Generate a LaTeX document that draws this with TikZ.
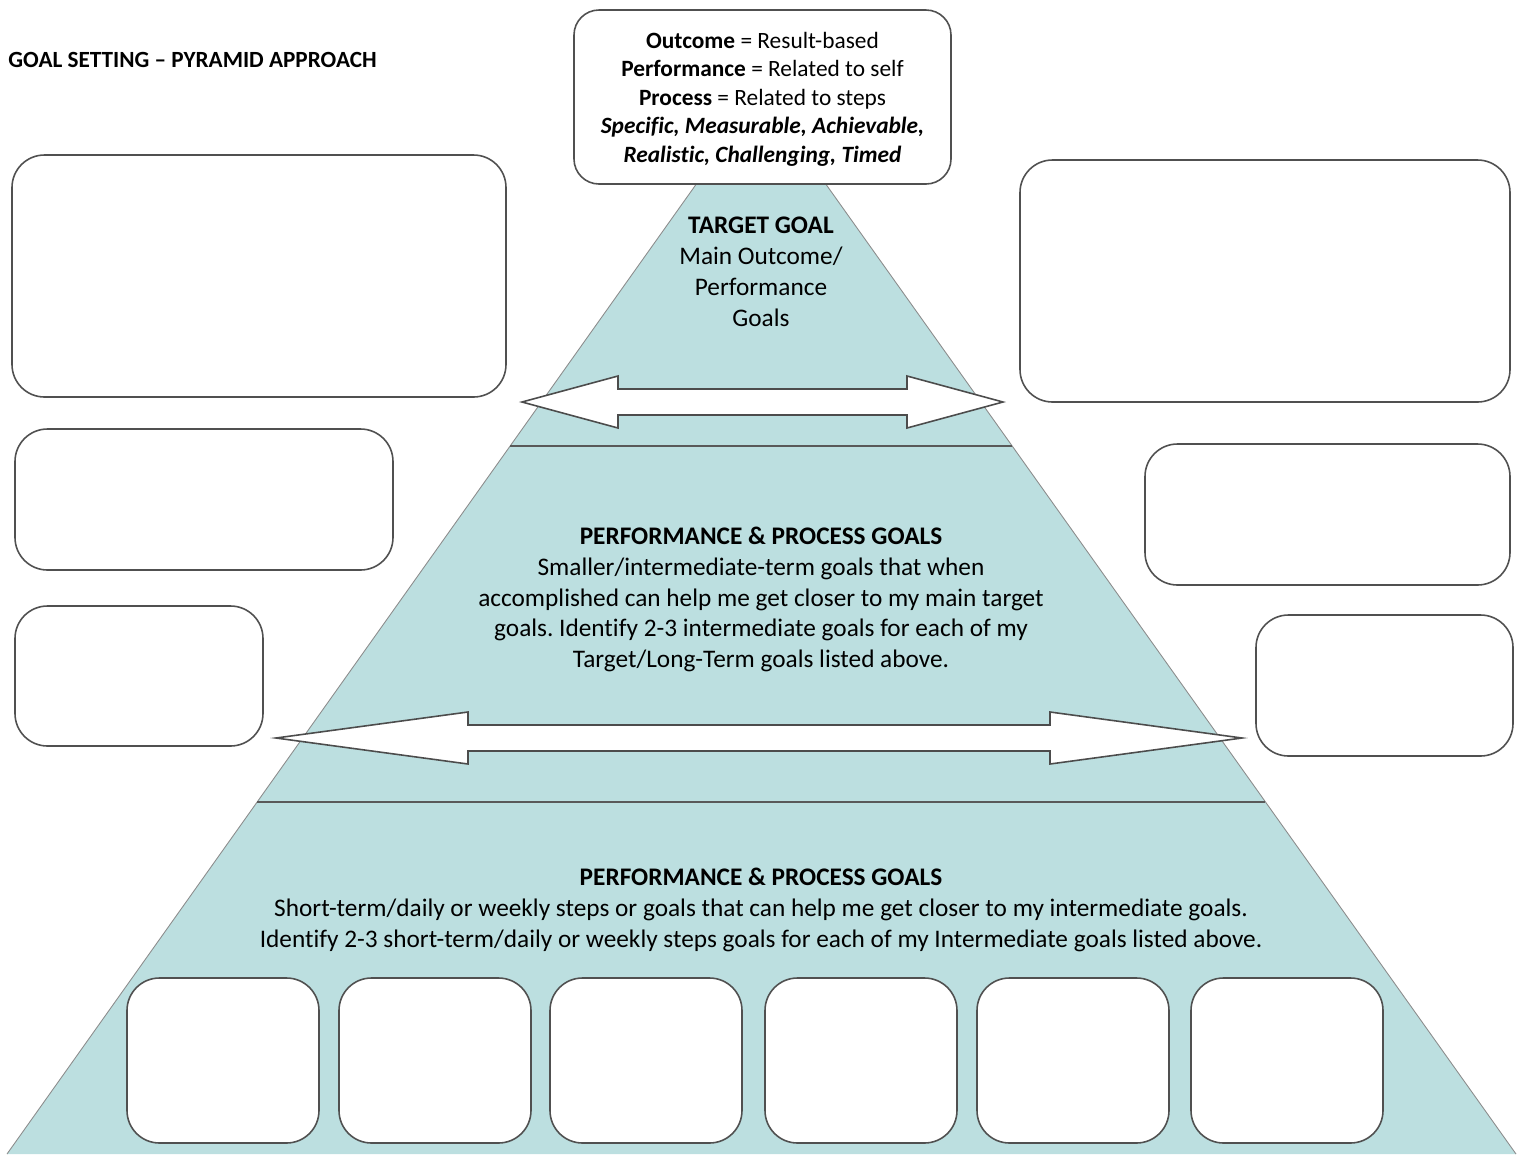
\documentclass[tikz,border=0pt]{standalone}
\usepackage{fontspec}
\setmainfont{Carlito}[Ligatures=NoCommon]
\usetikzlibrary{positioning}
\definecolor{pyrteal}{RGB}{188,223,224}
\definecolor{boxgray}{RGB}{80,80,80}
\frenchspacing
\tikzset{
  goalbox/.style={draw=boxgray, line width=0.9pt, rounded corners=0.65cm, fill=white},
  bandline/.style={draw=black!65, line width=1.1pt},
  widearrow/.style={draw=black!70, line width=0.9pt, fill=white, line join=miter},
  pyrtext/.style={align=center, inner sep=0pt, font=\fontsize{14.4}{17.6}\selectfont},
}

\begin{document}
\begin{tikzpicture}[x=0.02cm, y=-0.02cm]
  \useasboundingbox (0,0) rectangle (1526,1154);
  % draw pyramid
  \coordinate (apex) at (761,93);
  \coordinate (baseL) at (7,1154);
  \coordinate (baseR) at (1516,1154);
  \fill[pyrteal] (baseL) -- (apex) -- (baseR) -- cycle;
  \draw[black!45, line width=0.5pt] (baseL) -- (apex) -- (baseR);
  % band lines
  \draw[bandline] (510,446) -- (1012,446);
  \draw[bandline] (257,802) -- (1265,802);
  % title
  \node[anchor=west, inner sep=0pt, font=\fontsize{13.2}{15}\selectfont\bfseries] (title) at (8,60)
    {GOAL SETTING -- PYRAMID APPROACH};
  % definitions box
  \draw[goalbox, rounded corners=0.5cm] (574,10) rectangle (951,184);
  \node[align=center, inner sep=0pt, font=\fontsize{13.3}{16.2}\selectfont] (defs) at (762.5,99)
    {\textbf{Outcome} = Result-based\\
     \textbf{Performance} = Related to self\\
     \textbf{Process} = Related to steps\\
     \textbf{\textit{Specific, Measurable, Achievable,}}\\
     \textbf{\textit{Realistic, Challenging, Timed}}};
  % pyramid texts
  \node[pyrtext] (target) at (761,271.5)
    {\textbf{TARGET GOAL}\\Main Outcome/\\Performance\\Goals};
  \node[pyrtext] (inter) at (761,599.5)
    {\textbf{PERFORMANCE \& PROCESS GOALS}\\
     Smaller/intermediate-term goals that when\\
     accomplished can help me get closer to my main target\\
     goals. Identify 2-3 intermediate goals for each of my\\
     Target/Long-Term goals listed above.};
  \node[pyrtext] (short) at (761,910)
    {\textbf{PERFORMANCE \& PROCESS GOALS}\\
     Short-term/daily or weekly steps or goals that can help me get closer to my intermediate goals.\\
     Identify 2-3 short-term/daily or weekly steps goals for each of my Intermediate goals listed above.};
  % double arrows
  \draw[widearrow] (522,402) -- (618,376) -- (618,389) -- (907,389) -- (907,376) -- (1003,402)
    -- (907,428) -- (907,415) -- (618,415) -- (618,428) -- cycle;
  \draw[widearrow] (276,738) -- (468,712) -- (468,725) -- (1050,725) -- (1050,712) -- (1242,738)
    -- (1050,764) -- (1050,751) -- (468,751) -- (468,764) -- cycle;
  % left boxes
  \draw[goalbox] (12,155) rectangle (506,397);
  \draw[goalbox] (15,429) rectangle (393,570);
  \draw[goalbox] (15,606) rectangle (263,746);
  % right boxes
  \draw[goalbox] (1020,160) rectangle (1510,402);
  \draw[goalbox] (1145,444) rectangle (1510,585);
  \draw[goalbox] (1256,615) rectangle (1513,756);
  % bottom boxes
  \foreach \x in {127,339,550,765,977,1191}
    \draw[goalbox] (\x,978) rectangle ++(192,165);
\end{tikzpicture}
\end{document}
